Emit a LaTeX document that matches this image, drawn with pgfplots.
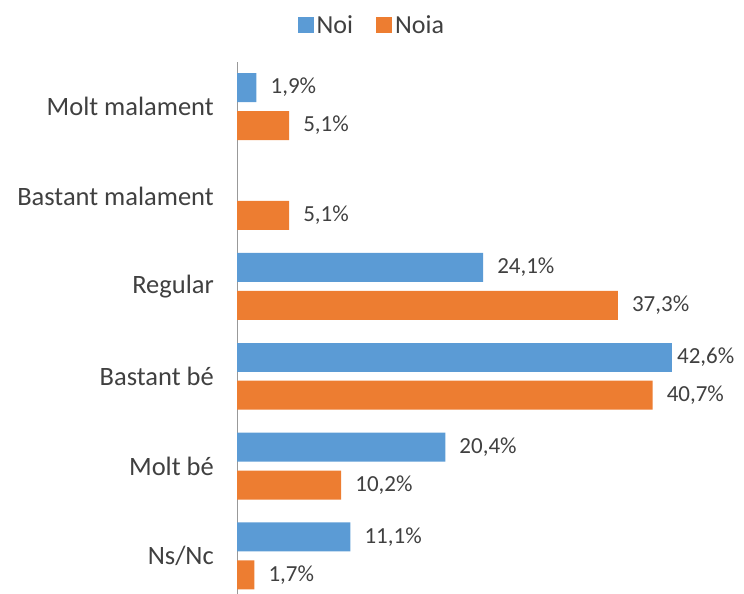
\documentclass[border=0pt]{standalone}
\usepackage{fontspec}
\setmainfont{Carlito}
\usepackage{pgfplots}
\pgfplotsset{compat=1.18}
\definecolor{noi}{HTML}{5B9BD5}
\definecolor{noia}{HTML}{ED7D31}
\definecolor{txt}{HTML}{404040}
\begin{document}
\begin{tikzpicture}
\useasboundingbox (0,0) rectangle (744pt,594pt);
\begin{axis}[
  at={(237pt,-0.6pt)}, anchor=south west,
  scale only axis,
  width=510.5pt, height=533pt,
  xmin=0, xmax=50,
  ymin=-0.43, ymax=5.5,
  xbar, bar width=29pt,
  axis x line=none,
  axis y line*=left,
  y axis line style={draw=gray!80, line width=0.8pt, -},
  ytick={0,1,2,3,4,5},
  yticklabels={Ns/Nc, Molt bé, Bastant bé, Regular, Bastant malament, Molt malament},
  major tick length=0pt,
  yticklabel style={font=\fontsize{26.5}{30}\selectfont, text=txt, inner xsep=0pt, xshift=-23pt},
  /pgf/number format/assume math mode=true,
  nodes near coords={\pgfmathprintnumber[use comma, fixed, fixed zerofill, precision=1, assume math mode=true]{\pgfplotspointmeta}\%},
  nodes near coords align={horizontal},
  every node near coord/.append style={font=\fontsize{23}{26}\selectfont, text=txt, inner xsep=14pt},
  point meta=explicit,
  legend columns=2,
  legend style={at={(axis description cs:0.265,1)}, anchor=center, yshift=36.5pt, draw=none,
    font=\fontsize{26}{30}\selectfont, text=txt,
    nodes={inner xsep=3pt},
    /tikz/every even column/.append style={column sep=20pt}},
  legend image code/.code={\fill[#1] (0pt,-8pt) rectangle (16pt,8pt);},
]
\addplot[fill=noi, draw=none, bar shift=19pt] table[meta=v] {
x y v
1.9 5 1.9
24.1 3 24.1
20.4 1 20.4
11.1 0 11.1
};
\addlegendentry{Noi}
\addplot[fill=noia, draw=none, bar shift=-19pt] table[meta=v] {
x y v
5.1 5 5.1
5.1 4 5.1
37.3 3 37.3
40.7 2 40.7
10.2 1 10.2
1.7 0 1.7
};
\addlegendentry{Noia}
\addplot[fill=noi, draw=none, bar shift=19pt, forget plot,
  every node near coord/.append style={inner xsep=5pt}] table[meta=v] {
x y v
42.6 2 42.6
};
\end{axis}
\end{tikzpicture}
\end{document}
